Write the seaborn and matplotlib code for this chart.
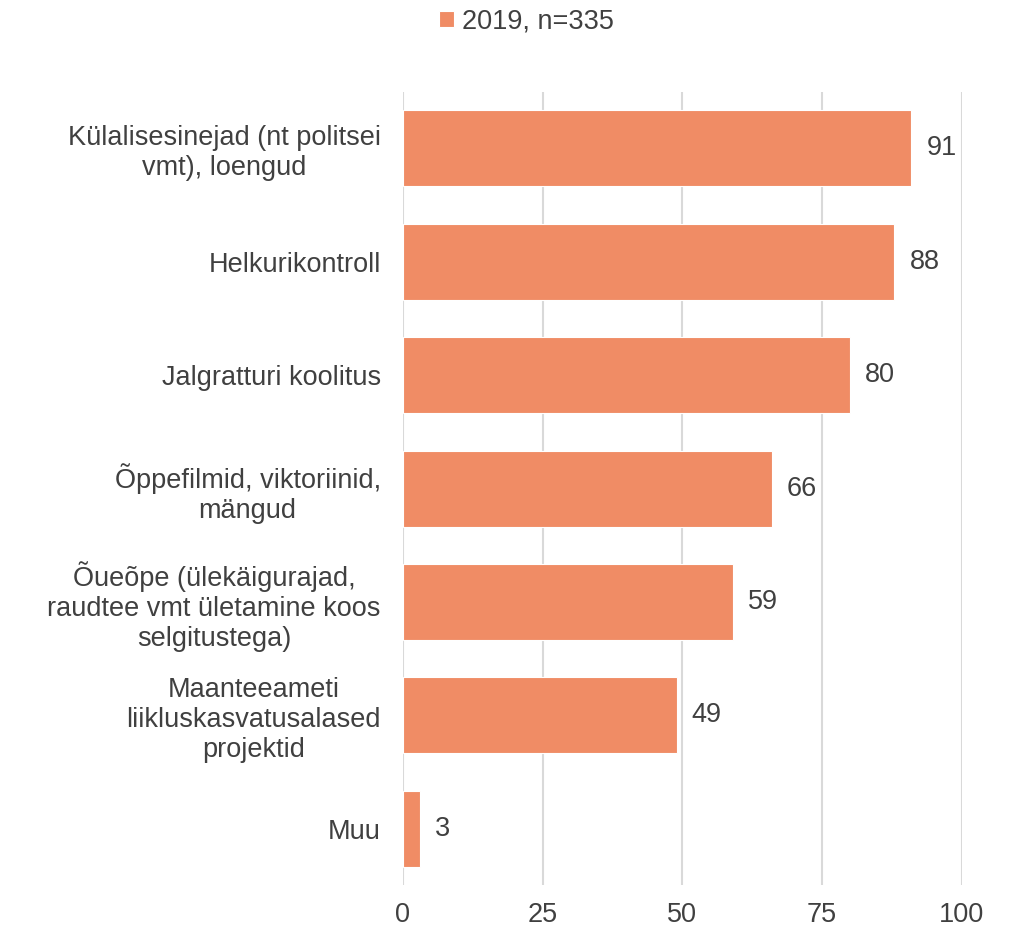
import matplotlib
matplotlib.use("Agg")
import matplotlib.pyplot as plt
import seaborn as sns
import pandas as pd

# Andmed
kategooriad = [
    "Külalisesinejad (nt politsei\nvmt), loengud",
    "Helkurikontroll",
    "Jalgratturi koolitus",
    "Õppefilmid, viktoriinid,\nmängud",
    "Õueõpe (ülekäigurajad,\nraudtee vmt ületamine koos\nselgitustega)",
    "Maanteeameti\nliikluskasvatusalased\nprojektid",
    "Muu",
]
vaartused = [91, 88, 80, 66, 59, 49, 3]
seeria = "2019, n=335"
xticks = [0, 25, 50, 75, 100]

df = pd.DataFrame({"kat": kategooriad, "val": vaartused})

sns.set_style("white")
plt.rcParams["font.family"] = ["Liberation Sans", "DejaVu Sans"]
tekst = "#404040"
varv = "#F08C65"

fig = plt.figure(figsize=(10.1, 9.27), dpi=100)
ax = fig.add_axes([0.399, 0.045, 0.553, 0.856])

sns.barplot(data=df, x="val", y="kat", color=varv, saturation=1, width=0.67,
            edgecolor="white", linewidth=0.8, ax=ax, label=seeria)

for i, v in enumerate(vaartused):
    ax.text(v + 2.7, i, str(v), va="center", ha="left", fontsize=19.5, color=tekst)

ax.set_xlim(0, 100)
ax.set_ylim(6.5, -0.5)
ax.set_xticks(xticks)
ax.set_xlabel("")
ax.set_ylabel("")
ax.xaxis.grid(True, color="#d9d9d9", linewidth=1.5)
ax.set_axisbelow(True)
for s in ax.spines.values():
    s.set_visible(False)
ax.tick_params(axis="both", length=0, colors=tekst)
ax.tick_params(axis="x", pad=12, labelsize=19.5)
ax.tick_params(axis="y", pad=16, labelsize=19.5)
for lbl in ax.get_yticklabels():
    lbl.set_multialignment("center")

handles, labels = ax.get_legend_handles_labels()
if ax.get_legend() is not None:
    ax.get_legend().remove()
fig.legend(handles, labels, loc="center", bbox_to_anchor=(0.521, 0.977),
           frameon=False, fontsize=19.5, handlelength=0.55, handleheight=0.55,
           handletextpad=0.3, labelcolor=tekst)

fig.savefig("out.png", dpi=100)
